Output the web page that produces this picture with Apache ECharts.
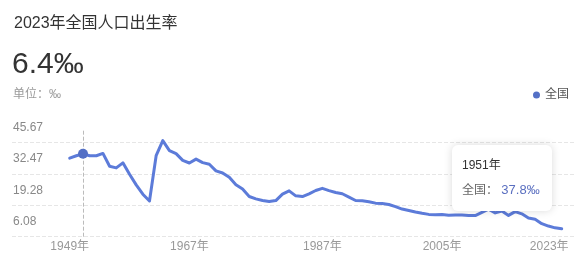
<!DOCTYPE html>
<html>
<head>
<meta charset="utf-8">
<style>
html,body{margin:0;padding:0;background:#fff;}
#chart{width:585px;height:262px;}
</style>
<script src="https://cdn.jsdelivr.net/npm/echarts@6/dist/echarts.min.js"></script>
</head>
<body>
<div id="chart"></div>
<script>
var years = [1949,1950,1951,1952,1953,1954,1955,1956,1957,1958,1959,1960,1961,1962,1963,1964,1965,1966,1967,1968,1969,1970,1971,1972,1973,1974,1975,1976,1977,1978,1979,1980,1981,1982,1983,1984,1985,1986,1987,1988,1989,1990,1991,1992,1993,1994,1995,1996,1997,1998,1999,2000,2001,2002,2003,2004,2005,2006,2007,2008,2009,2010,2011,2012,2013,2014,2015,2016,2017,2018,2019,2020,2021,2022,2023];
var birthRate = [36.0,37.0,37.8,37.0,37.0,37.97,32.6,31.9,34.03,29.22,24.78,20.86,18.02,37.01,43.37,39.14,37.88,35.05,33.96,35.59,34.11,33.43,30.65,29.77,27.93,24.82,23.01,19.91,18.93,18.25,17.82,18.21,20.91,22.28,20.19,19.90,21.04,22.43,23.33,22.37,21.58,21.06,19.68,18.24,18.09,17.70,17.12,16.98,16.57,15.64,14.64,14.03,13.38,12.86,12.41,12.29,12.40,12.09,12.10,12.14,11.95,11.90,13.27,14.57,13.03,13.83,11.99,13.57,12.64,10.86,10.41,8.52,7.52,6.77,6.39];
var xTickYears = [1949,1967,1987,2005,2023];
var yTickLabels = ['6.08','19.28','32.47','45.67'];
var seriesName = '全国';

var FONT = '"Liberation Sans", Arial, "Noto Sans CJK SC", sans-serif';
var Y_MIN = 3.05, Y_INT = 13.195, Y_MAX = 48.09;
var BLUE = '#5470c6';

var chart = echarts.init(document.getElementById('chart'), null, {renderer:'canvas'});
var data = years.map(function(y,i){ return [y, birthRate[i]]; });

chart.setOption({
  animation: false,
  textStyle: {fontFamily: FONT},
  title: [
    {text: '2023年全国人口出生率', left: 9, top: 11, textStyle:{fontSize:16, fontWeight:'normal', color:'#333', fontFamily:FONT}},
    {text: '6.4‰', left: 7, top: 45, textStyle:{fontSize:30, fontWeight:'normal', color:'#333', fontFamily:FONT}},
    {text: '单位：‰', left: 8, top: 84, textStyle:{fontSize:12, fontWeight:'normal', color:'#999', fontFamily:FONT}}
  ],
  legend: {
    right: 11, top: 84, icon:'circle', itemWidth:7, itemHeight:7, itemGap:5,
    textStyle:{fontSize:12, color:'#555', fontFamily:FONT},
    data:[seriesName]
  },
  grid: {left: 12, right: 10, top: 129.3, bottom: 25.3, containLabel:false},
  tooltip: {
    trigger: 'axis',
    alwaysShowContent: true,
    backgroundColor: '#fff',
    borderWidth: 0,
    padding: [12, 10, 13, 10],
    extraCssText: 'box-shadow:0 0 8px rgba(0,0,0,0.15);border-radius:6px;width:80px;',
    position: function(){ return [452, 145]; },
    axisPointer: {type:'line', z:1, lineStyle:{color:'#bbb', type:'dashed', width:1}},
    formatter: function(params){
      var p = params[0];
      var f = FONT.replace(/"/g,"'");
      return '<div style="font-family:'+f+';font-size:12px;color:#333;line-height:16px;">'+p.value[0]+'年</div>'+
             '<div style="font-family:'+f+';font-size:12px;line-height:16px;margin-top:9px;white-space:nowrap;"><span style="color:#666">'+p.seriesName+'：</span> <span style="color:#5a6fc0;font-size:13px">'+p.value[1]+'‰</span></div>';
    }
  },
  xAxis: {
    type: 'value', min: 1940.32, max: 2025,
    axisLine:{show:false}, axisTick:{show:false}, splitLine:{show:false},
    axisLabel:{
      customValues: xTickYears, color:'#999', fontSize:12, margin:4, fontFamily:FONT,
      formatter: function(v){ return v === xTickYears[xTickYears.length-1] ? '{last|'+v+'年}' : v+'年'; },
      rich: {last: {color:'#999', fontSize:12, fontFamily:FONT, padding:[0,25,0,0]}}
    }
  },
  yAxis: {
    type: 'value', min: Y_MIN, max: Y_MAX, interval: Y_INT,
    axisLine:{show:false}, axisTick:{show:false},
    splitLine:{show:true, showMaxLine:false, lineStyle:{color:'#e6e6e6', type:'dashed', width:1}},
    axisLabel:{
      inside: true, margin: 1, align:'left', verticalAlign:'bottom', padding:[0,0,9,0],
      showMaxLabel:false, color:'#888', fontSize:12, fontFamily:FONT,
      formatter: function(v){
        var i = Math.round((v - Y_MIN)/Y_INT);
        return (i>=0 && i<yTickLabels.length) ? yTickLabels[i] : '';
      }
    }
  },
  series: [{
    name: seriesName, type:'line', data: data, clip:false, z: 100,
    showSymbol:false, symbol:'circle', symbolSize:10,
    itemStyle:{color:BLUE, borderColor:BLUE, borderWidth:0},
    lineStyle:{color:BLUE, width:3, join:'round', cap:'round'},
    emphasis:{scale:false, itemStyle:{color:BLUE, borderColor:BLUE, borderWidth:0}}
  }]
});
chart.dispatchAction({type:'showTip', seriesIndex:0, dataIndex:2});
</script>
</body>
</html>
